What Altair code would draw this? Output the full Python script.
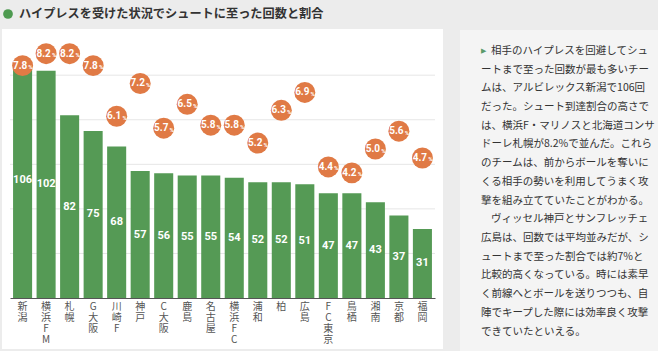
import altair as alt
import pandas as pd

teams = ["新潟", "横浜FM", "札幌", "G大阪", "川崎F", "神戸", "C大阪", "鹿島", "名古屋",
         "横浜FC", "浦和", "柏", "広島", "FC東京", "鳥栖", "湘南", "京都", "福岡"]
counts = [106, 102, 82, 75, 68, 57, 56, 55, 55, 54, 52, 52, 51, 47, 47, 43, 37, 31]
rates = [7.8, 8.2, 8.2, 7.8, 6.1, 7.2, 5.7, 6.5, 5.8, 5.8, 5.2, 6.3, 6.9, 4.4, 4.2, 5.0, 5.6, 4.7]
grid_values = [20, 40, 60, 80, 100]

title_text = "ハイプレスを受けた状況でシュートに至った回数と割合"
para1_first = "相手のハイプレスを回避してシュ"
para1_rest = [
    "ートまで至った回数が最も多いチー",
    "ムは、アルビレックス新潟で106回",
    "だった。シュート到達割合の高さで",
    "は、横浜F・マリノスと北海道コンサ",
    "ドーレ札幌が8.2%で並んだ。これら",
    "のチームは、前からボールを奪いに",
    "くる相手の勢いを利用してうまく攻",
    "撃を組み立てていたことがわかる。",
]
para2_first = "ヴィッセル神戸とサンフレッチェ"
para2_rest = [
    "広島は、回数では平均並みだが、シ",
    "ュートまで至った割合では約7%と",
    "比較的高くなっている。時には素早",
    "く前線へとボールを送りつつも、自",
    "陣でキープした際には効率良く攻撃",
    "できていたといえる。",
]

df = pd.DataFrame({"team": teams, "count": counts, "rate": rates})
df["half"] = df["count"] / 2
df["rate_label"] = df["rate"].map(lambda v: f"{v:.1f}")
grid_df = pd.DataFrame({"g": grid_values})

JP = "Noto Sans CJK JP"
GREEN = "#559a55"
ORANGE = "#e07a45"
LH = 18.7
FS = 10.5

one = alt.Data(values=[{"k": 1}])

x_enc = alt.X("team:N", sort=teams, title=None,
              scale=alt.Scale(paddingInner=0.19, paddingOuter=0.13),
              axis=alt.Axis(labelAngle=0, ticks=False, domainColor="#555555", zindex=1,
                            labelExpr="split(datum.label, '')",
                            labelFont=JP, labelFontSize=10, labelColor="#555555",
                            labelLineHeight=11, labelPadding=3, labelBaseline="top"))
ybar = alt.Scale(domain=[0, 115.8], nice=False, zero=True)
ypct = alt.Scale(domain=[0, 8.66], nice=False, zero=True)

white_panel = alt.Chart(one).mark_rect(color="white").encode(
    x=alt.value(-8), x2=alt.value(433), y=alt.value(-11), y2=alt.value(309))
right_panel = alt.Chart(one).mark_rect(color="#f4f4f4").encode(
    x=alt.value(450), x2=alt.value(648), y=alt.value(-10), y2=alt.value(311))

grid = alt.Chart(grid_df).mark_rule(color="#e6e6e6", strokeWidth=1).encode(
    y=alt.Y("g:Q", scale=ybar, axis=None),
    x=alt.value(0), x2=alt.value(425))

bars = alt.Chart(df).mark_bar(color=GREEN).encode(
    x=x_enc,
    y=alt.Y("count:Q", scale=ybar, title=None, axis=None))

bar_labels = alt.Chart(df).mark_text(color="white", font="Roboto", fontWeight="bold",
                                     fontSize=11, baseline="middle").encode(
    x=alt.X("team:N", sort=teams),
    y=alt.Y("half:Q", scale=ybar, axis=None),
    text="count:Q")

circles = alt.Chart(df).mark_circle(color=ORANGE, opacity=1, size=440).encode(
    x=alt.X("team:N", sort=teams),
    y=alt.Y("rate:Q", scale=ypct, axis=None))

rate_num = alt.Chart(df).mark_text(color="white", font="Roboto", fontWeight="bold",
                                   fontSize=10, dx=-2.5, baseline="middle").encode(
    x=alt.X("team:N", sort=teams),
    y=alt.Y("rate:Q", scale=ypct, axis=None),
    text="rate_label:N")
rate_pct = alt.Chart(df).mark_text(color="white", font="Roboto", fontWeight="bold",
                                   fontSize=6, dx=8, dy=1.5, baseline="middle").encode(
    x=alt.X("team:N", sort=teams),
    y=alt.Y("rate:Q", scale=ypct, axis=None),
    text=alt.value("%"))

title_dot = alt.Chart(one).mark_circle(color="#4e9a50", opacity=1, size=95).encode(
    x=alt.value(-2), y=alt.value(-26))
title = alt.Chart(one).mark_text(text=title_text, font=JP, fontWeight="bold", fontSize=12.2,
                                 color="#333333", align="left", baseline="middle").encode(
    x=alt.value(9), y=alt.value(-26))
arrow = alt.Chart(one).mark_text(text="▶", fontSize=7, color="#5a9a6a",
                                 align="left", baseline="middle").encode(
    x=alt.value(471), y=alt.value(11))


def block(lines, x, y):
    return alt.Chart(one).mark_text(text=lines, font=JP, fontSize=FS, color="#333333",
                                    align="left", baseline="middle", lineHeight=LH).encode(
        x=alt.value(x), y=alt.value(y))


y0 = 11
b1 = block(para1_first, 481, y0)
b2 = block(para1_rest, 471, y0 + LH)
b3 = block(para2_first, 481, y0 + LH * 9)
b4 = block(para2_rest, 471, y0 + LH * 10)

chart = alt.layer(
    white_panel, right_panel, grid, bars, bar_labels, circles, rate_num, rate_pct,
    title_dot, title, arrow, b1, b2, b3, b4
).resolve_scale(y="independent").properties(
    width=425, height=258,
    autosize=alt.AutoSizeParams(type="none"),
    padding={"left": 10, "top": 40, "right": 223, "bottom": 53},
).configure(background="#ececec").configure_view(stroke=None)

chart.save("out.html", embed_options={"renderer": "svg", "actions": False})
